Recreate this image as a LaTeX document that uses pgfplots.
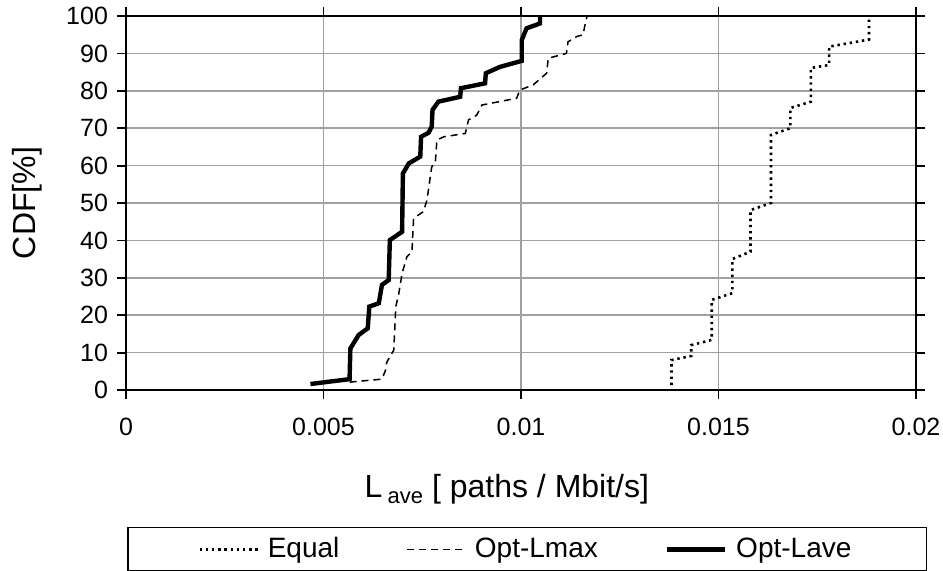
\documentclass[border=0pt]{standalone}
\usepackage{pgfplots}
\pgfplotsset{compat=1.18}
\usepackage{fontspec}
\setmainfont{Liberation Sans}
\definecolor{gridgray}{RGB}{160,160,160}
\begin{document}
\begin{tikzpicture}
\begin{axis}[
  scale only axis,
  width=395bp, height=187bp,
  xmin=0, xmax=0.02, ymin=0, ymax=100,
  xtick={0,0.005,0.01,0.015,0.02},
  xticklabels={0,0.005,0.01,0.015,0.02},
  scaled x ticks=false,
  ytick={0,10,...,100},
  minor tick num=0,
  /pgf/number format/assume math mode=true,
  tick label style={font=\fontsize{12.5bp}{15bp}\selectfont},
  xticklabel style={yshift=-6bp},
  yticklabel style={xshift=-1bp},
  tick align=outside,
  major tick length=4.5bp,
  tick style={black, line width=0.9bp},
  axis line style={black, line width=0.9bp},
  grid=major,
  major grid style={gridgray, line width=0.8bp},
  xlabel={L\,\raisebox{-0.35ex}{\fontsize{11bp}{12bp}\selectfont ave}\ [ paths / Mbit/s]},
  ylabel={CDF[\%]},
  label style={font=\fontsize{16bp}{19bp}\selectfont},
  xlabel style={at={(axis description cs:0.482,-0.2647)}, anchor=center},
  ylabel style={at={(axis description cs:-0.1253,0.5)}, anchor=center},
  legend columns=3,
  legend style={
    at={(axis description cs:0.508,-0.366)}, anchor=north,
    draw=black, line width=0.8bp,
    font=\fontsize{14bp}{16bp}\selectfont,
    inner xsep=35bp, inner ysep=3.5bp,
    nodes={inner xsep=2.5bp, inner ysep=1.5bp},
    /tikz/every odd column/.append style={column sep=2bp},
    /tikz/every even column/.append style={column sep=31bp},
  },
  legend image code/.code={\draw[#1] (0bp,0bp) -- (29bp,0bp);},
]
\coordinate (sw) at (rel axis cs:0,0);
\addplot[black, line width=1.3bp, dash pattern=on 1.2bp off 1.9bp] coordinates {
(0.01381,1.3) (0.01381,8.0) (0.01431,9.1) (0.01431,12.0) (0.01483,13.4)
(0.01483,24.1) (0.01535,25.9) (0.01535,35.0) (0.01581,37.0) (0.01581,48.1)
(0.01633,50.0) (0.01633,68.2) (0.01682,70.0) (0.01682,75.4) (0.01734,77.1)
(0.01734,86.1) (0.01780,86.9) (0.01780,91.8) (0.01881,93.7) (0.01881,99.5)
};
\addlegendentry{Equal}
\addplot[black, line width=0.75bp, dash pattern=on 3.5bp off 2.5bp] coordinates {
(0.00566,2.1) (0.00648,2.9) (0.00657,5.3) (0.00660,7.4) (0.00678,10.7)
(0.00683,22.3) (0.00690,25.4) (0.00699,31.2) (0.00711,35.6) (0.00724,37.0)
(0.00728,45.9) (0.00753,47.7) (0.00762,50.8) (0.00774,59.7) (0.00783,60.6)
(0.00787,66.8) (0.00804,67.7) (0.00859,68.6) (0.00867,72.2) (0.00888,73.5)
(0.00901,76.2) (0.00989,78.0) (0.00997,80.2) (0.01031,81.6) (0.01065,84.7)
(0.01069,88.7) (0.01115,90.0) (0.01119,93.1) (0.01141,94.5) (0.01157,95.0)
(0.01162,97.6) (0.01167,99.8)
};
\addlegendentry{Opt-Lmax}
\addplot[black, line width=2.2bp] coordinates {
(0.00467,1.6) (0.00566,2.9) (0.00568,11.1) (0.00589,14.7) (0.00612,16.5)
(0.00616,22.3) (0.00640,23.2) (0.00648,28.1) (0.00665,29.4) (0.00668,40.1)
(0.00699,42.3) (0.00701,57.9) (0.00716,60.6) (0.00745,62.4) (0.00747,67.7)
(0.00766,68.8) (0.00774,70.4) (0.00776,74.9) (0.00791,77.1) (0.00846,78.4)
(0.00848,80.7) (0.00909,82.0) (0.00911,84.7) (0.00947,86.4) (0.01002,88.0)
(0.01002,93.6) (0.01014,96.7) (0.01048,98.0) (0.01048,100)
};
\addlegendentry{Opt-Lave}
\end{axis}
\pgfresetboundingbox
\path[use as bounding box] (sw) ++(-63bp,-90.5bp) rectangle ++(471.5bp,285.5bp);
\end{tikzpicture}
\end{document}
